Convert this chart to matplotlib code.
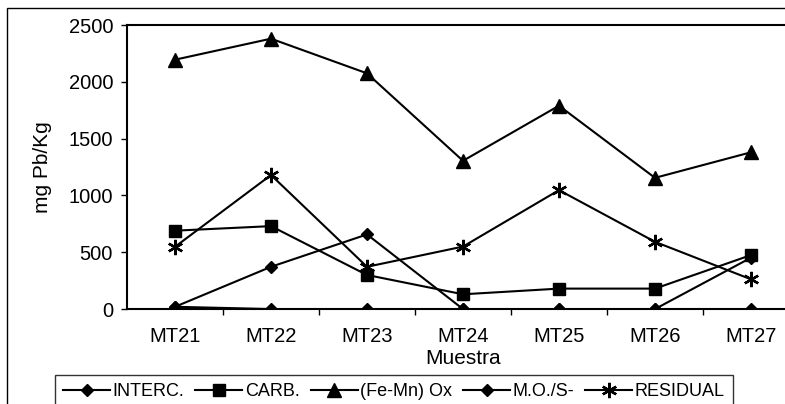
import matplotlib
matplotlib.use("Agg")
import matplotlib.pyplot as plt
from matplotlib.patches import Rectangle

# data
muestras = ["MT21", "MT22", "MT23", "MT24", "MT25", "MT26", "MT27"]
interc = [20, 0, 0, 0, 0, 0, 0]
carb = [690, 730, 300, 130, 180, 180, 475]
fe_mn_ox = [2195, 2380, 2075, 1305, 1790, 1155, 1380]
mo_s = [20, 372, 657, 0, 0, 0, 452]
residual = [548, 1180, 372, 550, 1047, 592, 262]

plt.rcParams['font.family'] = ['Liberation Sans', 'DejaVu Sans']

fig = plt.figure(figsize=(7.85, 4.04), dpi=100)
ax = fig.add_axes([0.1618, 0.235, 0.856, 0.703])

x = list(range(len(muestras)))
lw = 1.5
ax.plot(x, interc, color='black', lw=lw, marker='D', ms=6.5, label='INTERC.')
ax.plot(x, carb, color='black', lw=lw, marker='s', ms=9, label='CARB.')
ax.plot(x, fe_mn_ox, color='black', lw=lw, marker='^', ms=9.5, label='(Fe-Mn) Ox')
ax.plot(x, mo_s, color='black', lw=lw, marker='D', ms=6.5, label='M.O./S-')
ax.plot(x, residual, color='black', lw=lw, marker=(6, 2, 0), ms=11, mew=1.7,
        label='RESIDUAL')

ax.set_xlim(-0.5, len(muestras) - 0.5)
ax.set_ylim(0, 2500)
ax.set_yticks([0, 500, 1000, 1500, 2000, 2500])
ax.set_xticks(x)
ax.set_xticklabels(muestras)
ax.set_xticks([i + 0.5 for i in x[:-1]], minor=True)
ax.tick_params(axis='x', which='major', length=0, pad=13, labelsize=14.5)
ax.tick_params(axis='x', which='minor', length=4, width=1, direction='out')
ax.tick_params(axis='y', length=4, width=1, direction='out', labelsize=14.5, pad=6)
for s in ax.spines.values():
    s.set_linewidth(1.5)
    s.set_color('black')

ax.set_xlabel('Muestra', fontsize=15, labelpad=2)
ax.set_ylabel('mg Pb/Kg', fontsize=15, labelpad=12)

leg = fig.legend(loc='upper left', bbox_to_anchor=(55 / 785, 1 - 375 / 404),
                 ncol=5, fontsize=13, frameon=True, fancybox=False,
                 handlelength=2.6, handletextpad=0.15, columnspacing=0.6,
                 borderpad=0.45, borderaxespad=0)
leg.get_frame().set_edgecolor('black')
leg.get_frame().set_linewidth(1)

# outer chart frame
fig.add_artist(Rectangle((7 / 785, -0.05), 1.05, 1.05 - 8 / 404, transform=fig.transFigure,
                         fill=False, edgecolor='black', lw=1))

fig.savefig('out.png', dpi=100)
